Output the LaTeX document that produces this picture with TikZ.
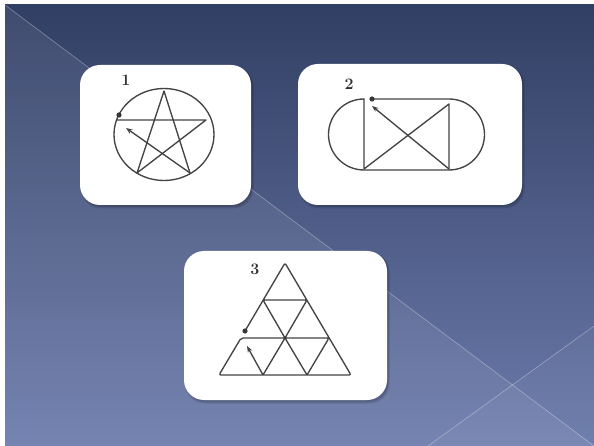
\documentclass[tikz,border=0pt]{standalone}
\usetikzlibrary{arrows.meta,calc}
\definecolor{bgtop}{HTML}{323F64}
\definecolor{bgbot}{HTML}{6B7BAB}
\definecolor{inkc}{HTML}{444444}
\tikzset{
  cardbox/.style={fill=white, rounded corners=20pt},
  cardshadow/.style={fill=black, opacity=0.12, rounded corners=20pt},
  inkline/.style={draw=inkc, line width=1.35pt, line join=round, line cap=round},
  arrowline/.style={inkline, -{Stealth[length=6.5pt,width=5pt]}},
  startdot/.style={fill=inkc!80!black},
  numlabel/.style={font=\fontsize{16}{16}\selectfont\bfseries, text=inkc!70!black, inner sep=0pt},
  diag/.style={draw=white, draw opacity=0.35, line width=0.6pt}
}
\begin{document}
\begin{tikzpicture}[x=1pt,y=1pt]
\useasboundingbox (0,0) rectangle (594,-446);
\fill[white] (0,0) rectangle (594,-446);
\shade[top color=bgtop, bottom color=bgbot] (5,-5) rectangle (594,-446);
\fill[white, opacity=0.07] (5,-5) -- (594,-446) -- (5,-446) -- cycle;
\fill[white, opacity=0.04] (428,-446) -- (594,-326) -- (594,-446) -- cycle;
\draw[diag] (5,-5) -- (594,-446);
\draw[diag] (428,-446) -- (594,-326);
\begin{scope}[yscale=-1]
  % cards
  \foreach \a/\b/\c/\d in {80/65/251/205, 298/64/522/205, 184/251/387/400}{
    \fill[cardshadow] (\a+1,\b+1) rectangle (\c+2.5,\d+3.5);
    \fill[cardshadow] (\a+1.5,\b+1.5) rectangle (\c+1.5,\d+2);
    \fill[cardbox] (\a,\b) rectangle (\c,\d);
  }
  % ---------- figure 1 ----------
  \node[numlabel] (l1) at (126,80) {1};
  \coordinate (c1) at (164,134.5);
  \coordinate (T) at (164,91);
  \coordinate (R) at (206,120);
  \coordinate (BL) at (137,173);
  \coordinate (BR) at (190,173);
  \coordinate (L) at (117,120);
  \coordinate (E1) at (126,128);
  \coordinate (D1) at (119,115);
  \draw[inkline] (c1) ellipse [x radius=50, y radius=46];
  \draw[inkline] (L) -- (R) -- (BL) -- (T) -- (BR);
  \draw[arrowline] (BR) -- (E1);
  \fill[startdot] (D1) circle (2.6);
  % ---------- figure 2 ----------
  \node[numlabel] (l2) at (349,84) {2};
  \coordinate (D2) at (372,99);
  \coordinate (TR) at (449,99);
  \coordinate (BLb) at (364,170);
  \coordinate (TL) at (364,99);
  \coordinate (RVt) at (449,104);
  \coordinate (RVb) at (449,169);
  \coordinate (LVb) at (364,169);
  \coordinate (E2) at (372,106);
  \draw[inkline] (D2) -- (TR) arc[start angle=-90, end angle=90, radius=35.5] -- (BLb)
        arc[start angle=90, end angle=270, radius=35.5];
  \draw[inkline] (TL) -- (LVb) -- (RVt) -- (RVb);
  \draw[arrowline] (RVb) -- (E2);
  \fill[startdot] (D2) circle (2.6);
  % ---------- figure 3 ----------
  \node[numlabel] (l3) at (255,269) {3};
  \coordinate (D3) at (245,331);
  \coordinate (A) at (285,263);
  \coordinate (BRc) at (351,375);
  \coordinate (BLc) at (219,375);
  \coordinate (M1) at (241,338);
  \coordinate (M2) at (329,338);
  \coordinate (C) at (285,338);
  \coordinate (U1) at (263,300);
  \coordinate (U2) at (307,300);
  \coordinate (B1) at (263,375);
  \coordinate (B2) at (307,375);
  \coordinate (E3) at (247,346);
  \draw[arrowline, rounded corners=2pt] (D3) -- (A) -- (BRc) -- (BLc) -- (M1) -- (M2) -- (B2) -- (C) -- (U1) -- (U2) -- (C) -- (B1) -- (E3);
  \fill[startdot] (D3) circle (2.6);
  \fill[startdot] (C) circle (1.3);
\end{scope}
\end{tikzpicture}
\end{document}
